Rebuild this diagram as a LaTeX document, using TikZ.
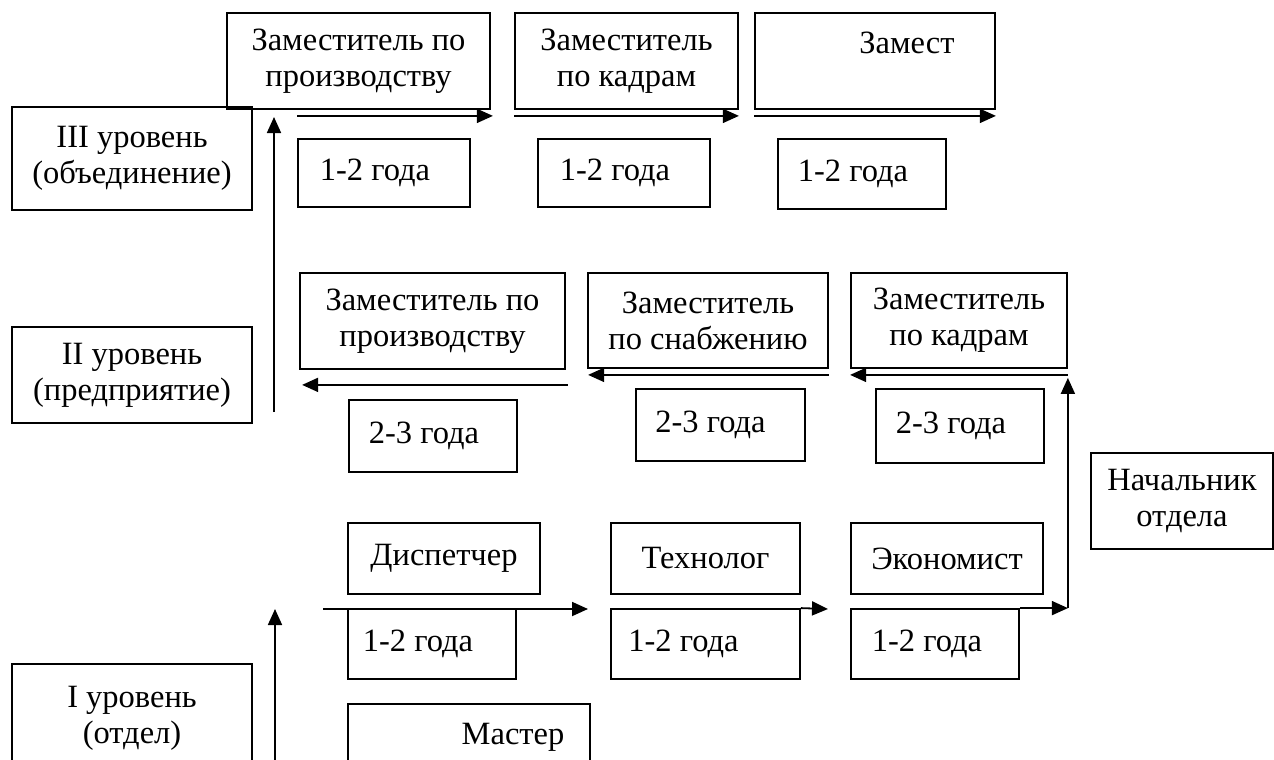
\documentclass[tikz,border=0pt]{standalone}
\usepackage{fontspec}
\setmainfont{Liberation Serif}
\usetikzlibrary{arrows.meta,calc}
\begin{document}
\begin{tikzpicture}[x=1bp,y=-1bp,
  bx/.style={draw, line width=1.8bp, inner sep=0pt, align=center, font=\fontsize{32.5bp}{36bp}\selectfont},
  arr/.style={line width=1.8bp, -{Triangle[length=16bp,width=14bp]}},
  ln/.style={line width=1.8bp}]
\useasboundingbox (0,0) rectangle (1274,760);
\clip (0,0) rectangle (1274,760);
% level boxes
\node[bx, minimum width=240bp, minimum height=103bp] (l3) at (132,158.5) {III уровень\\(объединение)};
\node[bx, minimum width=240bp, minimum height=96bp] (l2) at (132,375) {II уровень\\(предприятие)};
\node[bx, minimum width=240bp, minimum height=109bp] (l1) at (132,718.5) {I уровень\\(отдел)};
% row 1
\node[bx, minimum width=263bp, minimum height=96bp] (b1) at (358.5,61) {Заместитель по\\производству};
\node[bx, minimum width=223bp, minimum height=96bp] (b2) at (626.5,61) {Заместитель\\по кадрам};
\node[bx, minimum width=240bp, minimum height=96bp] (b3) at (875,61) {\hspace*{64bp}Замест\\\mbox{}};
\node[bx, minimum width=172bp, minimum height=68bp] (y1a) at (384,173) {1-2 года\hspace*{18bp}};
\node[bx, minimum width=172bp, minimum height=68bp] (y1b) at (624,173) {1-2 года\hspace*{18bp}};
\node[bx, minimum width=168bp, minimum height=70bp] (y1c) at (862,174) {1-2 года\hspace*{18bp}};
% row 2
\node[bx, minimum width=265bp, minimum height=96bp] (b4) at (432.5,321) {Заместитель по\\производству};
\node[bx, minimum width=240bp, minimum height=95bp] (b5) at (708,320.5) {Заместитель\\по снабжению};
\node[bx, minimum width=216bp, minimum height=95bp] (b6) at (959,320.5) {Заместитель\\по кадрам};
\node[bx, minimum width=168bp, minimum height=72bp] (y2a) at (433,436) {2-3 года\hspace*{18bp}};
\node[bx, minimum width=169bp, minimum height=72bp] (y2b) at (720.5,425) {2-3 года\hspace*{20bp}};
\node[bx, minimum width=168bp, minimum height=74bp] (y2c) at (960,426) {2-3 года\hspace*{18bp}};
% row 3
\node[bx, minimum width=182bp, minimum height=96bp] (nach) at (1182,501) {Начальник\\отдела};
\node[bx, minimum width=192bp, minimum height=71bp] (disp) at (444,558.5) {Диспетчер};
\node[bx, minimum width=189bp, minimum height=71bp] (tech) at (705.5,558.5) {Технолог};
\node[bx, minimum width=192bp, minimum height=71bp] (econ) at (947,558.5) {Экономист};
\node[bx, minimum width=168bp, minimum height=70bp] (y3a) at (432,644) {1-2 года\hspace*{28bp}};
\node[bx, minimum width=189bp, minimum height=70bp] (y3b) at (705.5,644) {1-2 года\hspace*{44bp}};
\node[bx, minimum width=168bp, minimum height=70bp] (y3c) at (935,644) {1-2 года\hspace*{16bp}};
\node[bx, minimum width=242bp, minimum height=66bp] (mast) at (469,737) {\hspace*{88bp}Мастер};
% connectors row 1
\draw[arr] ($(b1.south -| y1a.west)+(0,6)$) -- ($(b1.south east)+(2,6)$);
\draw[arr] ($(b2.south west)+(0,6)$) -- ($(b2.south east)+(0,6)$);
\draw[arr] ($(b3.south west)+(0,6)$) -- ($(b3.south east)+(0,6)$);
% connectors row 2
\draw[arr] ($(b4.south east)+(2,15)$) -- ($(b4.south west)+(3,15)$);
\draw[arr] ($(b5.south east)+(0,6)$) -- ($(b5.south west)+(1,6)$);
\draw[arr] ($(b6.south east)+(0,6)$) -- ($(b6.south west)+(0,6)$);
% vertical level arrows
\coordinate (up2s) at (274,412);
\coordinate (up2e) at (274,117);
\draw[arr] (up2s) -- (up2e);
\coordinate (up1s) at (275,770);
\coordinate (up1e) at (275,609);
\draw[arr] (up1s) -- (up1e);
% connectors row 3
\coordinate (a7s) at (323,609);
\coordinate (a7e) at (588,609);
\draw[arr] (a7s) -- (a7e);
\coordinate (a8e) at (828,609);
\draw[arr] (y3b.north east) -- (a8e);
\coordinate (corner) at (b6.south east |- y3c.north);
\draw[arr] (y3c.north east) -- (corner);
\draw[arr] (corner) -- ($(b6.south east)+(0,9)$);
\end{tikzpicture}
\end{document}
